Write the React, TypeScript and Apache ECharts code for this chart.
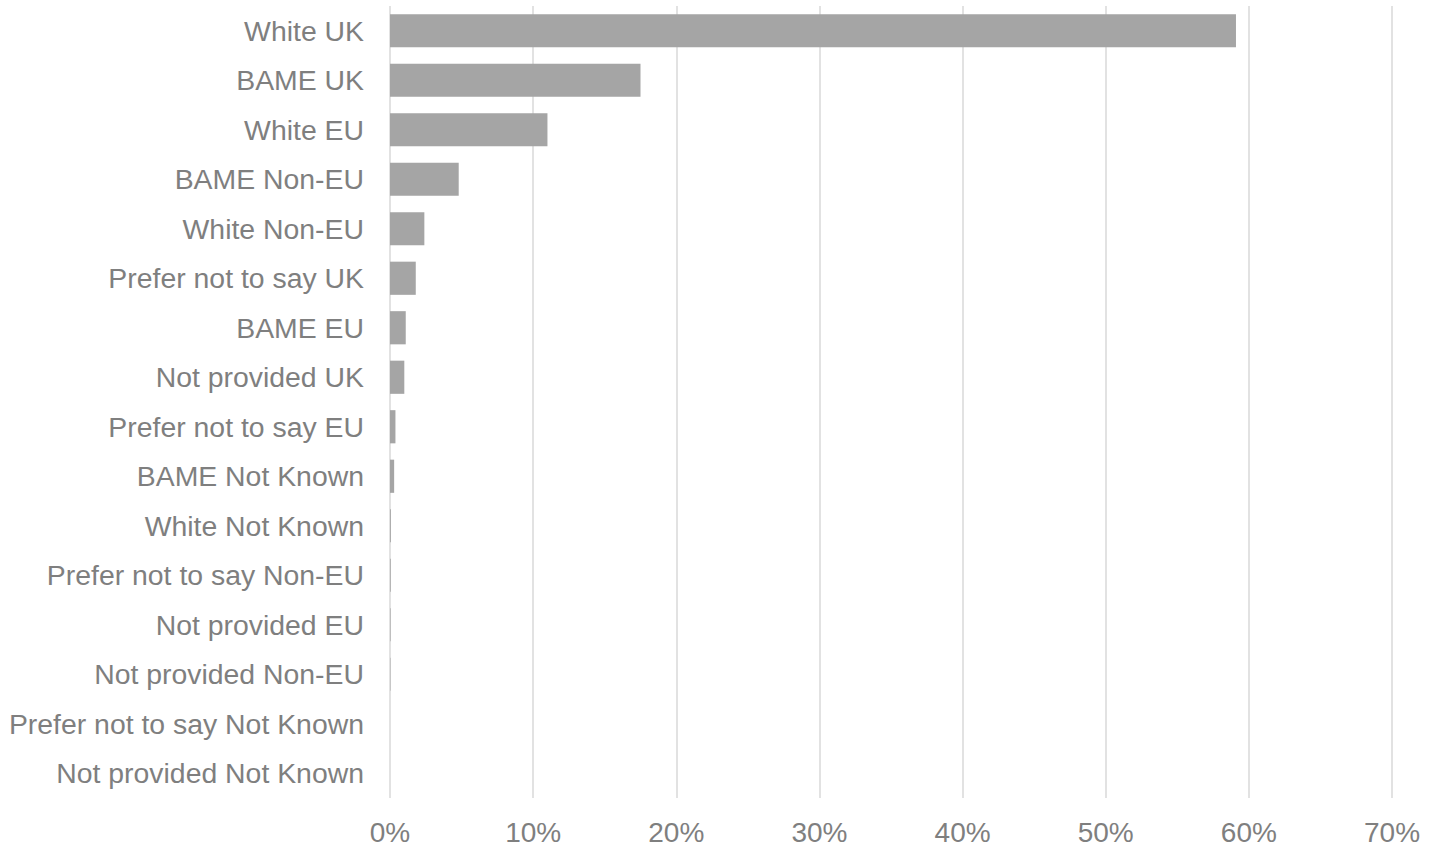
import React, { useEffect, useRef } from "react";
import * as echarts from "echarts";

const categories = [
  "White UK",
  "BAME UK",
  "White EU",
  "BAME Non-EU",
  "White Non-EU",
  "Prefer not to say UK",
  "BAME EU",
  "Not provided UK",
  "Prefer not to say EU",
  "BAME Not Known",
  "White Not Known",
  "Prefer not to say Non-EU",
  "Not provided EU",
  "Not provided Non-EU",
  "Prefer not to say Not Known",
  "Not provided Not Known",
];

const values = [59.1, 17.5, 11.0, 4.8, 2.4, 1.8, 1.1, 1.0, 0.38, 0.29, 0.06, 0.05, 0.04, 0.03, 0, 0];

const tickMax = 70;
const tickInterval = 10;

const FONT = "'Liberation Sans', Arial, sans-serif";

export default function App() {
  const ref = useRef<HTMLDivElement>(null);
  useEffect(() => {
    if (!ref.current) return;
    const chart = echarts.init(ref.current, undefined, { renderer: "svg" });
    chart.setOption({
      animation: false,
      grid: { left: 390, right: 46, top: 6, bottom: 54, containLabel: false },
      xAxis: {
        type: "value",
        min: 0,
        max: tickMax,
        interval: tickInterval,
        axisLine: { show: false },
        axisTick: { show: false },
        splitLine: { show: true, lineStyle: { color: "#d9d9d9", width: 1.5 } },
        axisLabel: {
          formatter: "{value}%",
          color: "#7f7f7f",
          fontSize: 28,
          fontFamily: FONT,
          margin: 20,
        },
      },
      yAxis: {
        type: "category",
        data: categories,
        inverse: true,
        axisLine: { show: false },
        axisTick: { show: false },
        splitLine: { show: false },
        axisLabel: {
          color: "#7f7f7f",
          fontSize: 28.4,
          fontFamily: FONT,
          margin: 26,
        },
      },
      series: [
        {
          type: "bar",
          data: values,
          barCategoryGap: "33%",
          itemStyle: { color: "#a5a5a5" },
        },
      ],
    });
    return () => chart.dispose();
  }, []);
  return <div ref={ref} style={{ width: 1438, height: 852, position: "absolute", left: 0, top: 0 }} />;
}
